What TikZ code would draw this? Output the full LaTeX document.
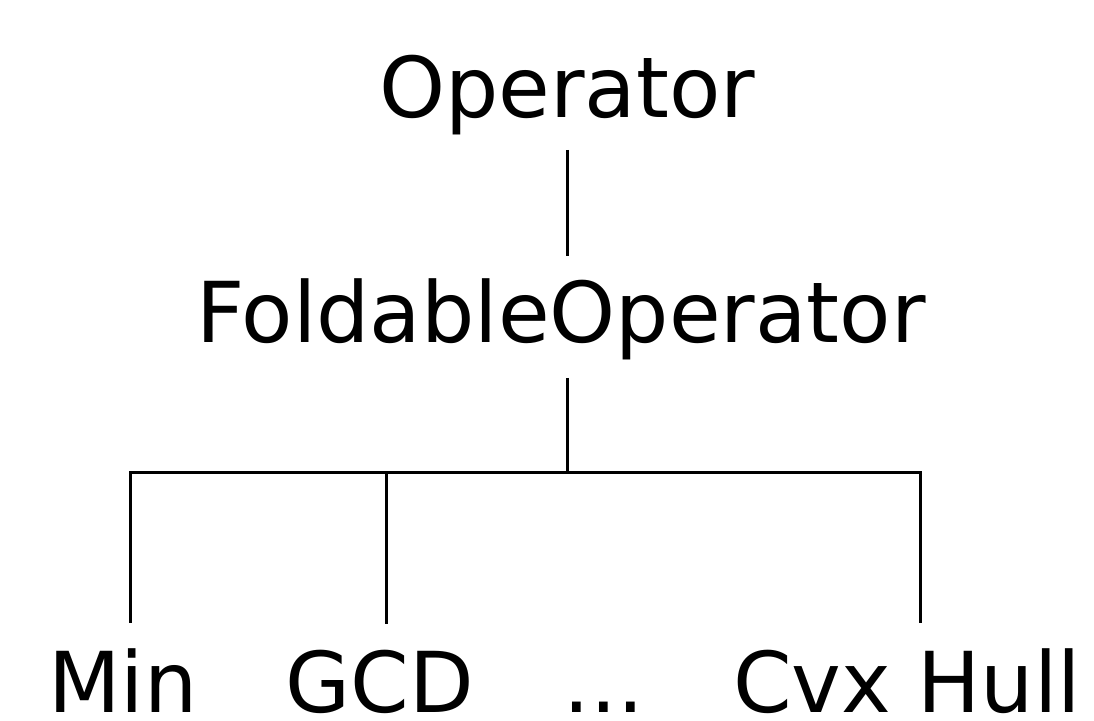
\documentclass[tikz,border=0pt]{standalone}
\usepackage{fontspec}
\setmainfont{DejaVu Sans}
\usetikzlibrary{positioning}

\begin{document}
\begin{tikzpicture}[
  x=0.5pt, y=-0.5pt,
  lbl/.style={font=\fontsize{42}{50}\selectfont, anchor=base, inner sep=0pt},
  link/.style={line width=1.5pt, color=black}
]
\useasboundingbox (0,0) rectangle (1094,720);

% class names
\node[lbl] (op) at (567,117) {Operator};
\node[lbl] (fold) at (561,342) {FoldableOperator};
\node[lbl] (min) at (123,712) {Min};
\node[lbl] (gcd) at (380,712) {GCD};
\node[lbl] (dots) at (604,712) {...};
\node[lbl] (hull) at (907,712) {Cvx Hull};

% Operator -> FoldableOperator
\draw[link, shorten <=7.5pt, shorten >=11pt] (op.south) -- (op.south |- fold.north);

% FoldableOperator -> branch bar
\coordinate (split) at (567,472);
\draw[link, shorten <=9pt] (split |- fold.south) -- (split);

% branch bar and drops to the subclasses
\draw[link, shorten <=12.5pt, shorten >=12.5pt] ([xshift=3.5pt]min.north) |- (split) -| ([xshift=6.5pt]hull.north);
\draw[link, shorten >=12.5pt] ([xshift=3pt]gcd.north |- split) -- ([xshift=3pt]gcd.north);

\end{tikzpicture}
\end{document}
